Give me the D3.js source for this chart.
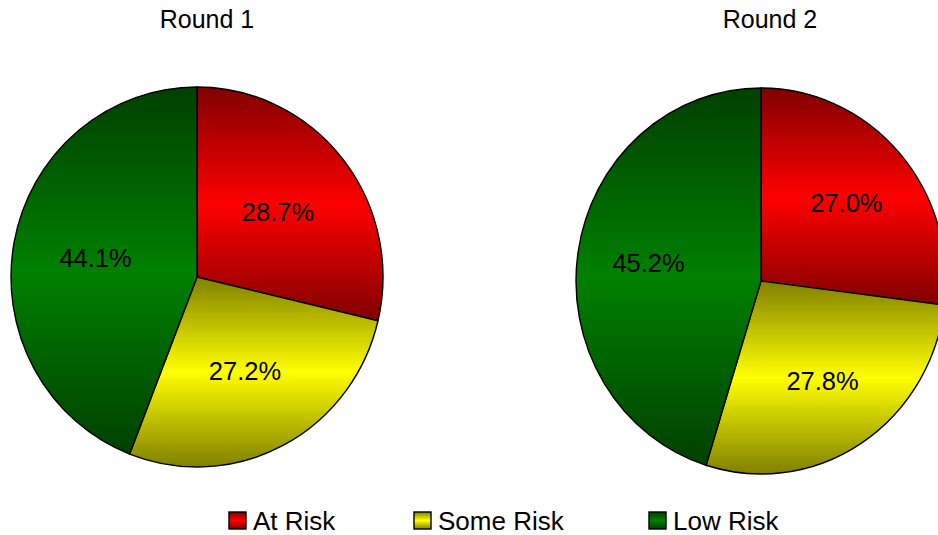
<!DOCTYPE html>
<html>
<head>
<meta charset="utf-8">
<script src="https://cdn.jsdelivr.net/npm/d3@7"></script>
<style>
  html, body { margin: 0; padding: 0; background: #fff; }
  svg { display: block; font-family: "Liberation Sans", Arial, sans-serif; }
</style>
</head>
<body>
<svg id="chart" width="938" height="535"></svg>
<script>
const categories = ["At Risk", "Some Risk", "Low Risk"];
const rounds = ["Round 1", "Round 2"];
const round1Values = [28.7, 27.2, 44.1];
const round2Values = [27.0, 27.8, 45.2];
const darkColors = ["#800000", "#808000", "#004000"];
const brightColors = ["#ff0000", "#ffff00", "#008000"];

const svg = d3.select("#chart");
const defs = svg.append("defs");
categories.forEach((c, i) => {
  const g = defs.append("linearGradient")
    .attr("id", "grad" + i)
    .attr("x1", 0).attr("y1", 0).attr("x2", 0).attr("y2", 1);
  g.append("stop").attr("offset", "0%").attr("stop-color", darkColors[i]);
  g.append("stop").attr("offset", "50%").attr("stop-color", brightColors[i]);
  g.append("stop").attr("offset", "100%").attr("stop-color", darkColors[i]);
});

const layout = [
  { title: rounds[0], values: round1Values, cx: 197, cy: 277, rx: 186, ry: 190, tx: 207, lf: 0.555 },
  { title: rounds[1], values: round2Values, cx: 761, cy: 281, rx: 185, ry: 193, tx: 770, lf: 0.615 }
];

const pie = d3.pie().sort(null).value(d => d);

layout.forEach(p => {
  const arcs = pie(p.values);
  const arc = d3.arc().innerRadius(0).outerRadius(p.rx);
  const labelArc = d3.arc().innerRadius(p.rx * p.lf).outerRadius(p.rx * p.lf);
  const sy = p.ry / p.rx;
  const g = svg.append("g").attr("transform", `translate(${p.cx},${p.cy})`);
  g.append("g").attr("transform", `scale(1,${sy})`)
    .selectAll("path").data(arcs).join("path")
    .attr("d", arc)
    .attr("fill", (d, i) => `url(#grad${i})`)
    .attr("stroke", "#000")
    .attr("stroke-width", 1.4)
    .attr("vector-effect", "non-scaling-stroke");
  g.selectAll("text.lbl").data(arcs).join("text")
    .attr("class", "lbl")
    .attr("x", d => labelArc.centroid(d)[0])
    .attr("y", d => labelArc.centroid(d)[1] * sy)
    .attr("dy", "0.36em")
    .attr("text-anchor", "middle")
    .attr("font-size", 25.5)
    .attr("fill", "#000")
    .text(d => d.data.toFixed(1) + "%");
  svg.append("text")
    .attr("x", p.tx).attr("y", 28)
    .attr("text-anchor", "middle")
    .attr("font-size", 25)
    .attr("fill", "#000")
    .text(p.title);
});

const legendX = d3.scaleOrdinal().domain(categories).range([229, 414, 649]);
const leg = svg.append("g").selectAll("g").data(categories).join("g")
  .attr("transform", d => `translate(${legendX(d)},512)`);
leg.append("rect")
  .attr("width", 17).attr("height", 17)
  .attr("fill", (d, i) => `url(#grad${i})`)
  .attr("stroke", "#000").attr("stroke-width", 1.4);
leg.append("text")
  .attr("x", 24).attr("y", 18)
  .attr("font-size", 26)
  .attr("fill", "#000")
  .text(d => d);
</script>
</body>
</html>
